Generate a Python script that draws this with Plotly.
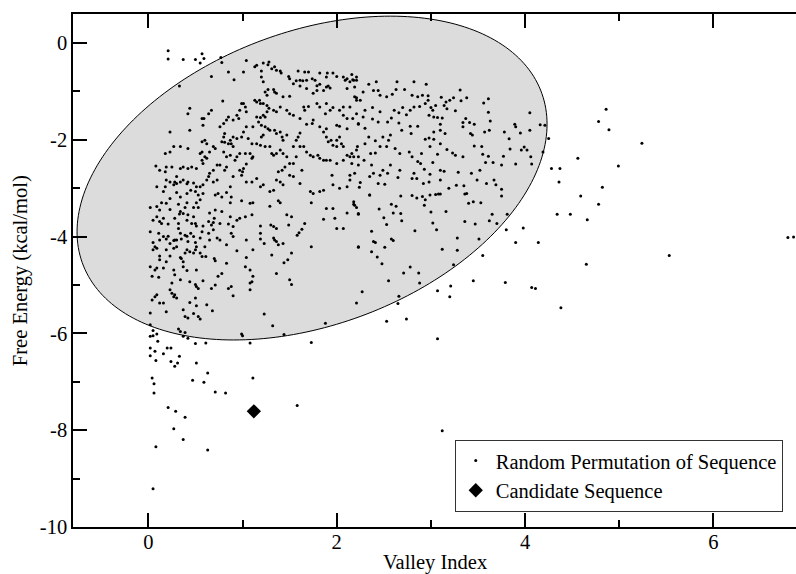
import numpy as np
import plotly.graph_objects as go

# ---------------- data ----------------
# Region A: upper-left part of the cloud
perm_x_a = [
    0.21,0.21,0.37,0.50,0.57,0.59,0.55,0.77,0.78,1.04,
    0.67,0.33,0.85,0.91,1.01,1.13,1.15,1.22,1.27,1.28,
    1.20,1.31,1.34,1.36,1.40,1.41,1.49,1.50,1.57,1.61,
    1.64,1.68,1.70,1.66,1.59,1.74,1.77,1.79,1.82,1.82,
    1.89,1.90,1.96,2.00,2.07,2.09,2.11,2.14,2.16,2.17,
    2.21,1.93,1.91,1.89,1.86,1.79,1.75,1.68,1.61,1.54,
    1.50,1.43,1.36,1.34,1.33,1.27,1.22,1.20,1.24,1.26,
    1.18,1.22,1.26,1.28,1.33,1.36,1.40,1.47,1.50,1.54,
    1.61,1.65,1.66,1.70,1.79,1.82,1.89,1.88,1.93,1.96,
    2.03,2.07,2.14,2.19,2.21,2.19,2.11,2.07,2.11,2.17,
    2.21,2.23,2.11,2.03,2.00,1.89,1.86,1.89,1.94,2.00,
    2.03,2.05,2.07,2.00,1.96,1.91,1.82,1.75,1.74,1.68,
    1.61,1.59,1.57,1.54,1.47,1.40,1.42,1.43,1.40,1.43,
    1.47,1.50,1.54,1.57,1.61,1.65,1.68,1.72,1.75,1.80,
    1.82,1.86,1.89,1.93,2.00,2.07,2.11,2.14,2.18,2.21,
    2.23,2.19,2.14,2.11,2.03,1.96,1.95,1.86,1.82,1.75,
    1.72,1.61,1.63,1.54,1.50,1.45,1.42,1.38,1.36,1.40,
    1.43,1.33,1.29,1.22,1.19,1.15,1.10,1.04,0.99,0.97,
    1.01,1.04,1.10,1.11,1.08,1.03,0.97,0.94,0.92,0.87,
    0.83,0.80,0.90,0.83,0.81,0.76,0.73,0.69,0.65,0.64,
    0.69,0.73,0.62,0.58,0.55,0.51,0.48,0.42,0.41,0.37,
    0.34,0.30,0.28,0.27,0.23,0.19,0.18,0.09,0.16,0.23,
    0.30,0.34,0.41,0.45,0.50,0.53,0.58,0.71,0.74,0.78,
    0.83,0.87,0.88,0.90,1.00,0.30,0.25,0.19,0.18,0.12,
    0.08,0.34,0.37,0.42,0.46,0.51,0.57,0.58,0.62,0.55,
    0.57,0.60,0.65,0.69,0.71,0.62,0.60,0.57,0.18,0.23,
    0.27,0.34,0.42,0.23,0.44,0.42,0.44,0.57,0.59,0.58,
    0.67,0.64,0.79,0.76,0.80,0.83,0.85,0.90,0.94,0.96,
    0.97,0.99,1.01,1.03,1.04,1.13,1.15,1.19,1.11,1.04,
    1.01,0.99,0.94,0.90,0.87,0.85,0.81,0.80,0.78,0.81,
    0.88,1.06,1.10,1.15,1.19,1.20,1.22,1.24,1.29,1.31,
    1.33,1.36,1.34,1.36,1.29,1.27,1.24,1.20,1.17,1.15,
    1.19,1.22,1.24,1.26,
]
perm_y_a = [
    -0.16,-0.33,-0.34,-0.34,-0.22,-0.32,-0.41,-0.30,-0.40,-0.36,
    -0.69,-0.89,-0.60,-0.76,-0.60,-0.49,-0.46,-0.41,-0.45,-0.39,
    -0.58,-0.53,-0.49,-0.56,-0.58,-0.62,-0.69,-0.74,-0.78,-0.77,
    -0.78,-0.77,-0.60,-0.60,-0.58,-0.74,-0.77,-0.88,-0.85,-0.62,
    -0.70,-0.62,-0.62,-0.69,-0.70,-0.77,-0.74,-0.80,-0.65,-0.76,
    -0.77,-0.93,-0.89,-0.91,-0.98,-0.98,-1.04,-0.94,-0.89,-0.84,
    -1.10,-1.11,-1.04,-1.01,-0.96,-0.96,-0.80,-0.70,-1.01,-1.08,
    -1.18,-1.25,-1.29,-1.35,-1.39,-1.42,-1.32,-1.39,-1.46,-1.49,
    -1.56,-1.32,-1.39,-1.31,-1.25,-1.32,-1.25,-1.46,-1.39,-1.33,
    -1.39,-1.32,-1.32,-1.11,-1.18,-0.91,-0.94,-1.49,-1.56,-1.56,
    -1.46,-1.66,-1.77,-1.72,-1.70,-1.77,-1.84,-1.94,-2.01,-2.01,
    -1.94,-2.08,-2.14,-2.14,-2.11,-2.04,-1.73,-1.59,-1.66,-1.68,
    -1.86,-1.94,-2.01,-2.14,-1.90,-1.84,-1.94,-2.01,-2.21,-2.28,
    -2.35,-2.49,-2.49,-2.35,-2.14,-2.14,-2.25,-2.32,-2.35,-2.32,
    -2.38,-2.42,-2.42,-2.42,-2.49,-2.42,-2.32,-2.35,-2.35,-2.21,
    -2.52,-2.69,-2.83,-2.97,-3.00,-2.93,-2.73,-3.04,-3.07,-3.11,
    -3.07,-2.90,-2.63,-2.76,-2.73,-2.56,-2.63,-2.66,-2.83,-2.87,
    -2.93,-3.04,-3.07,-2.93,-2.97,-2.80,-2.87,-2.87,-2.73,-2.63,
    -2.59,-2.50,-2.38,-2.35,-2.28,-2.28,-2.28,-2.35,-2.42,-2.32,
    -2.35,-2.25,-2.14,-2.56,-2.63,-2.52,-2.52,-2.63,-2.69,-2.76,
    -2.87,-2.83,-2.83,-2.93,-2.97,-2.97,-2.89,-2.87,-2.91,-2.83,
    -2.87,-2.90,-2.87,-2.93,-2.87,-2.83,-2.97,-2.97,-3.07,-3.21,
    -3.09,-3.18,-3.11,-3.04,-3.07,-3.14,-3.11,-3.14,-3.11,-3.18,
    -3.09,-2.97,-3.18,-2.76,-2.66,-2.76,-2.56,-2.56,-2.66,-2.63,
    -2.54,-2.59,-2.56,-2.59,-2.56,-2.59,-2.42,-2.49,-2.38,-2.28,
    -2.25,-2.35,-2.25,-2.14,-2.18,-2.08,-2.01,-2.04,-2.28,-2.25,
    -2.14,-2.14,-2.18,-1.84,-1.80,-1.46,-1.35,-1.56,-1.56,-1.70,
    -1.39,-1.46,-1.20,-1.73,-1.66,-1.59,-1.53,-1.59,-1.49,-1.56,
    -1.39,-1.25,-1.25,-1.32,-1.42,-1.18,-1.22,-1.25,-1.73,-1.73,
    -1.84,-1.94,-1.97,-1.94,-2.01,-2.08,-1.87,-1.94,-2.04,-2.05,
    -2.08,-1.97,-2.08,-2.08,-2.11,-1.94,-1.90,-2.14,-2.14,-2.28,
    -2.32,-2.28,-1.80,-1.87,-1.80,-1.77,-1.73,-1.70,-1.63,-1.53,
    -1.54,-1.49,-1.53,-1.42,
]

# Region B: lower-left part of the cloud and the low tail
perm_x_b = [
    0.02,0.09,0.12,0.14,0.19,0.23,0.32,0.34,0.39,0.41,
    0.48,0.51,0.53,0.55,0.65,0.71,0.78,0.87,0.99,1.08,
    1.11,1.29,1.38,1.40,1.47,1.52,1.73,1.86,1.89,1.96,
    1.98,2.00,2.07,2.11,2.18,2.19,2.23,0.05,0.09,0.12,
    0.14,0.16,0.21,0.28,0.32,0.33,0.37,0.41,0.42,0.46,
    0.48,0.50,0.51,0.58,0.64,0.67,0.69,0.70,0.76,0.85,
    0.87,0.88,0.90,0.94,0.97,1.03,1.10,1.19,1.19,1.19,
    1.23,1.30,1.33,1.34,1.36,1.38,1.43,1.49,1.52,1.58,
    1.60,1.63,1.66,1.73,2.23,2.21,0.02,0.05,0.07,0.09,
    0.11,0.12,0.16,0.19,0.21,0.23,0.27,0.28,0.30,0.32,
    0.34,0.35,0.39,0.41,0.42,0.45,0.48,0.50,0.51,0.55,
    0.57,0.60,0.64,0.65,0.69,0.73,0.76,0.83,0.90,0.94,
    1.04,1.11,1.33,1.36,0.05,0.12,0.19,0.23,0.27,0.30,
    0.34,0.35,0.37,0.39,0.41,0.44,0.48,0.50,0.55,0.57,
    0.61,0.70,0.71,0.83,1.03,1.04,1.08,1.11,1.31,1.36,
    1.44,1.48,1.50,1.52,0.02,0.04,0.07,0.09,0.11,0.12,
    0.16,0.19,0.27,0.28,0.37,0.41,0.44,0.51,0.50,0.51,
    0.53,0.58,0.67,0.71,0.74,0.78,0.85,0.88,0.90,1.08,
    1.10,1.08,0.04,0.07,0.09,0.12,0.16,0.19,0.23,0.25,
    0.25,0.27,0.28,0.30,0.34,0.37,0.39,0.42,0.44,0.48,
    0.50,0.51,0.53,0.55,0.62,0.68,1.23,1.32,1.44,1.73,
    1.88,0.99,1.00,1.08,0.02,0.02,0.05,0.02,0.05,0.10,
    0.09,0.32,0.34,0.39,0.37,0.42,0.50,0.61,0.02,0.07,
    0.08,0.16,0.20,0.24,0.24,0.28,0.31,0.33,0.51,0.63,
    0.47,0.59,0.71,0.82,1.11,0.04,0.06,0.06,0.02,0.21,
    0.29,0.39,0.27,0.37,0.08,0.63,0.05,1.58,3.12,
]
perm_y_b = [
    -3.40,-3.38,-3.45,-3.30,-3.31,-3.44,-3.33,-3.48,-3.40,-3.30,
    -3.40,-3.30,-3.40,-3.24,-3.51,-3.45,-3.48,-3.30,-3.26,-3.31,
    -3.30,-3.37,-3.26,-3.30,-3.55,-3.59,-3.30,-3.64,-3.42,-3.42,
    -3.62,-3.83,-3.83,-3.51,-3.28,-3.35,-3.52,-3.66,-3.59,-3.69,
    -3.73,-3.62,-3.74,-3.62,-3.73,-3.53,-3.52,-3.66,-3.55,-3.73,
    -3.59,-3.73,-3.78,-3.78,-3.69,-3.76,-3.71,-3.62,-3.73,-3.74,
    -3.59,-3.93,-3.79,-3.66,-3.62,-3.59,-3.55,-3.78,-3.93,-4.05,
    -4.14,-3.76,-3.79,-4.07,-3.83,-4.17,-4.14,-3.76,-4.34,-3.97,
    -3.92,-3.85,-3.73,-4.21,-4.21,-5.37,-3.90,-4.12,-4.21,-4.24,
    -3.93,-4.07,-4.00,-4.05,-3.99,-4.14,-4.08,-4.07,-4.07,-3.83,
    -3.93,-4.05,-3.97,-3.99,-4.10,-3.93,-4.00,-4.12,-4.21,-4.03,
    -3.90,-4.21,-3.93,-4.07,-3.86,-4.03,-4.07,-4.17,-4.00,-4.29,
    -4.07,-4.27,-4.03,-4.10,-4.27,-4.40,-4.27,-4.40,-4.24,-4.21,
    -4.43,-4.45,-4.52,-4.34,-4.27,-4.31,-4.34,-4.27,-4.34,-4.41,
    -4.41,-4.45,-4.50,-4.55,-4.62,-4.43,-4.69,-4.82,-4.38,-4.76,
    -4.54,-4.48,-4.89,-4.99,-4.62,-4.82,-4.69,-4.65,-4.84,-4.48,
    -4.65,-4.52,-4.69,-4.79,-4.62,-4.70,-4.93,-4.69,-4.99,-5.03,
    -5.07,-4.91,-5.07,-5.00,-4.82,-4.76,-5.07,-5.03,-5.22,-4.96,
    -4.93,-5.10,-5.31,-5.24,-5.20,-5.37,-5.37,-5.55,-5.10,-4.96,
    -5.17,-5.24,-5.20,-5.27,-4.89,-5.51,-5.65,-5.68,-5.36,-5.59,
    -5.27,-5.43,-5.65,-5.70,-5.41,-5.53,-5.60,-5.84,-6.02,-6.19,
    -5.79,-6.01,-6.05,-6.20,-5.58,-5.82,-5.94,-6.06,-6.05,-6.16,
    -6.01,-5.91,-5.96,-5.98,-6.06,-6.10,-6.21,-6.20,-6.46,-6.37,
    -6.56,-6.42,-6.30,-6.30,-6.58,-6.68,-6.61,-6.47,-6.61,-6.82,
    -6.97,-7.01,-7.21,-7.23,-6.92,-6.92,-7.04,-7.23,-6.30,-7.53,
    -7.61,-7.73,-7.97,-8.19,-8.34,-8.41,-9.21,-7.49,-8.01,
]

# Region C: upper-right part of the cloud
perm_x_c = [
    4.78,4.56,4.28,4.37,4.36,4.16,4.21,4.25,4.19,4.05,
    4.05,4.06,4.07,3.89,3.90,3.95,3.83,3.84,3.78,3.77,
    3.90,3.96,3.99,4.02,3.75,3.66,3.67,3.69,3.59,3.75,
    3.56,3.61,3.61,3.63,3.57,3.62,3.54,3.55,3.58,3.61,
    3.46,3.44,3.42,3.46,3.41,3.37,3.34,3.34,3.52,3.49,
    3.43,3.34,3.26,3.23,3.29,3.31,3.38,3.32,3.24,3.20,
    3.16,3.11,3.14,3.17,3.26,3.05,3.02,3.10,3.10,3.15,
    3.03,3.03,2.98,2.94,2.99,3.10,3.17,3.07,3.02,2.90,
    2.89,2.93,2.99,2.98,2.92,3.10,3.14,3.10,3.08,2.99,
    3.19,3.27,3.35,3.38,2.95,2.82,2.64,2.72,2.80,2.86,
    2.91,2.97,2.97,2.94,2.88,3.00,2.98,3.03,3.07,3.12,
    2.82,2.78,2.74,2.70,2.66,2.61,2.59,2.63,2.53,2.46,
    2.44,2.39,2.42,2.34,2.21,2.18,2.28,2.21,2.25,2.30,
    2.38,2.46,2.38,2.28,2.23,2.30,2.44,2.54,2.58,2.66,
    2.69,2.78,2.86,2.79,2.57,2.49,2.41,2.34,2.30,2.22,
    2.16,2.16,2.23,2.29,2.36,2.41,2.46,2.53,2.55,2.62,
    2.67,2.77,2.80,2.86,2.82,2.80,2.85,2.57,2.54,2.49,
    2.46,2.37,2.39,2.35,2.44,2.51,2.65,2.67,2.25,2.24,
    2.35,2.14,
]
perm_y_c = [
    -1.62,-2.38,-2.59,-2.59,-2.87,-1.69,-1.70,-1.97,-2.25,-1.44,
    -1.80,-2.35,-2.50,-1.68,-1.73,-1.86,-1.98,-2.19,-1.84,-2.34,
    -2.50,-2.21,-2.15,-2.21,-2.52,-2.47,-2.83,-2.93,-2.90,-3.02,
    -1.24,-1.15,-1.43,-1.61,-1.84,-1.80,-2.14,-2.30,-2.47,-2.34,
    -2.13,-1.90,-1.87,-1.68,-1.64,-1.56,-1.64,-1.73,-2.63,-2.83,
    -2.69,-2.35,-2.32,-2.27,-2.67,-0.97,-1.13,-1.19,-1.13,-1.18,
    -1.22,-1.12,-1.29,-1.36,-1.40,-1.29,-1.39,-1.68,-1.80,-1.87,
    -1.84,-1.99,-1.96,-1.99,-2.14,-2.08,-2.20,-2.30,-2.47,-2.28,
    -2.49,-2.61,-2.71,-2.87,-2.90,-2.63,-2.65,-2.83,-3.12,-3.14,
    -3.00,-2.94,-2.95,-3.11,-0.85,-0.80,-0.80,-0.96,-1.08,-1.11,
    -1.08,-1.09,-1.18,-1.25,-1.31,-1.33,-1.49,-1.53,-1.54,-1.55,
    -1.32,-1.39,-1.48,-1.33,-1.44,-1.39,-1.06,-0.96,-1.11,-1.08,
    -0.98,-0.98,-0.80,-0.85,-0.70,-0.77,-1.01,-1.13,-1.18,-1.39,
    -1.33,-1.42,-1.57,-1.53,-1.68,-1.76,-1.63,-1.63,-1.55,-1.65,
    -1.80,-1.72,-1.72,-1.87,-1.90,-1.94,-2.02,-1.94,-2.08,-2.14,
    -2.28,-2.49,-2.35,-2.42,-2.28,-2.27,-2.14,-2.14,-2.01,-2.18,
    -2.28,-2.25,-2.35,-2.45,-2.69,-2.80,-2.80,-2.52,-2.69,-2.63,
    -2.73,-2.52,-2.69,-2.76,-2.90,-2.92,-2.78,-2.63,-2.88,-2.98,
    -3.14,-2.73,
]

# Region D: lower-right part of the cloud and far outliers
perm_x_d = [
    4.59,4.78,4.34,4.48,4.66,3.98,3.90,4.14,3.80,4.65,
    3.55,3.45,3.79,4.07,4.11,4.38,3.21,3.07,3.20,2.74,
    2.53,3.07,2.66,2.65,3.24,2.27,2.35,2.68,2.80,2.85,
    2.91,2.94,3.05,3.10,3.36,3.40,3.45,3.53,3.75,2.18,
    2.21,2.23,2.45,2.58,2.63,2.60,2.68,2.69,2.50,2.53,
    2.93,3.00,3.16,3.02,3.06,2.83,3.36,3.47,3.62,3.65,
    3.70,3.81,2.37,2.23,2.39,2.41,2.51,2.58,2.60,2.37,
    2.43,2.48,3.12,3.28,3.28,3.51,2.78,2.71,2.87,2.88,
    2.55,4.86,4.89,5.24,4.99,4.82,6.79,6.85,5.53,
]
perm_y_d = [
    -3.16,-3.33,-3.54,-3.54,-3.65,-3.82,-4.12,-4.12,-3.86,-4.57,
    -4.39,-4.91,-4.95,-5.05,-5.07,-5.47,-5.02,-5.12,-5.24,-5.70,
    -5.75,-6.11,-5.23,-5.38,-4.58,-5.14,-3.14,-3.16,-3.15,-3.20,
    -3.17,-3.24,-3.13,-3.12,-3.12,-3.31,-3.28,-3.30,-3.16,-3.33,
    -3.40,-3.54,-3.43,-3.33,-3.37,-3.51,-3.52,-3.67,-3.61,-3.75,
    -3.35,-3.49,-3.48,-3.72,-3.86,-3.88,-3.69,-3.74,-3.67,-3.54,
    -3.73,-3.54,-3.89,-4.22,-4.10,-4.12,-4.22,-4.05,-4.08,-4.31,
    -4.42,-4.56,-4.26,-4.28,-4.03,-4.05,-4.63,-4.75,-4.75,-4.96,
    -4.91,-1.37,-1.79,-2.07,-2.54,-2.98,-4.02,-4.01,-4.39,
]

candidate_x = [1.12]
candidate_y = [-7.61]

x_tick_vals = [0, 2, 4, 6]
x_tick_text = ["0", "2", "4", "6"]
y_tick_vals = [-10, -8, -6, -4, -2, 0]
y_tick_text = ["-10", "-8", "-6", "-4", "-2", "0"]

series_names = ["Random Permutation of Sequence", "Candidate Sequence"]
x_title = "Valley Index"
y_title = "Free Energy (kcal/mol)"

# ellipse (highlight region) parameters in data units
ELL_CX, ELL_CY = 1.738, -2.79
ELL_AX = 2.495                 # x half-extent
ELL_B1, ELL_B2 = 1.113, 3.155  # y = cy + b1*cos t + b2*sin t

# ---------------- figure ----------------
perm_x = perm_x_a + perm_x_b + perm_x_c + perm_x_d
perm_y = perm_y_a + perm_y_b + perm_y_c + perm_y_d

t = np.linspace(0, 2 * np.pi, 241)
ex = ELL_CX + ELL_AX * np.cos(t)
ey = ELL_CY + ELL_B1 * np.cos(t) + ELL_B2 * np.sin(t)
path = "M " + " L ".join(f"{a:.4f},{b:.4f}" for a, b in zip(ex, ey)) + " Z"

FONT = "Liberation Serif"
FS = 20.5

fig = go.Figure()
fig.add_shape(type="path", path=path, xref="x", yref="y", layer="below",
              fillcolor="#dcdcdc", line=dict(color="black", width=1))

fig.add_trace(go.Scatter(
    x=perm_x, y=perm_y, mode="markers", name=series_names[0],
    marker=dict(color="black", size=3, symbol="circle", line=dict(width=0)),
))
fig.add_trace(go.Scatter(
    x=candidate_x, y=candidate_y, mode="markers", name=series_names[1],
    marker=dict(color="black", size=11, symbol="diamond", line=dict(width=0)),
))

axis_common = dict(
    showgrid=False, zeroline=False, showline=True, linecolor="black",
    linewidth=1.5, ticks="inside", ticklen=14, tickwidth=1.5, tickcolor="black",
    tickfont=dict(family=FONT, size=FS, color="black"),
    minor=dict(dtick=1, ticks="inside", ticklen=7, tickwidth=1.5, tickcolor="black"),
    automargin=False,
)

fig.update_xaxes(
    range=[-0.8, 6.876], tickmode="array", tickvals=x_tick_vals, ticktext=x_tick_text,
    mirror="ticks", ticklabelstandoff=-4,
    **axis_common,
)
fig.update_yaxes(
    range=[-10, 0.6], tickmode="array", tickvals=y_tick_vals, ticktext=y_tick_text,
    mirror=False,
    **axis_common,
)

fig.add_annotation(text=x_title, xref="paper", yref="paper", x=0.5, y=-0.0695,
                   xanchor="center", yanchor="middle", showarrow=False,
                   font=dict(family=FONT, size=FS, color="black"))
fig.add_annotation(text=y_title, xref="paper", yref="paper", x=-0.0724, y=0.5,
                   xanchor="center", yanchor="middle", showarrow=False, textangle=-90,
                   font=dict(family=FONT, size=FS, color="black"))

fig.update_layout(
    width=796, height=574,
    margin=dict(l=73, r=0, t=14, b=47, autoexpand=False),
    paper_bgcolor="white", plot_bgcolor="white",
    font=dict(family=FONT, size=FS, color="black"),
    legend=dict(
        x=0.528, y=0.0999, xanchor="left", yanchor="middle",
        bgcolor="white", bordercolor="#333333", borderwidth=1,
        font=dict(family=FONT, size=FS, color="black"),
        itemsizing="trace",
    ),
    showlegend=True,
)

fig.write_html(
    "out.html",
    config={"displayModeBar": False},
    post_script="document.body.style.margin='0px';document.body.style.overflow='hidden';",
)
